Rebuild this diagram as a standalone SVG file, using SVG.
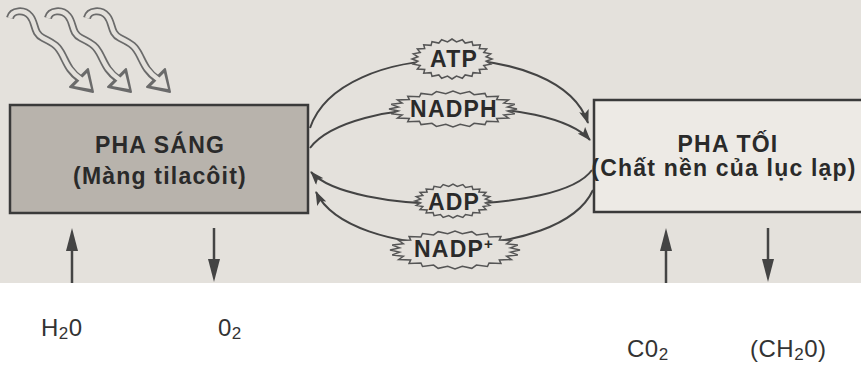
<svg xmlns="http://www.w3.org/2000/svg" xmlns:xlink="http://www.w3.org/1999/xlink" width="861" height="366" viewBox="0 0 861 366">
<style>
.box{stroke:#3a3a3a;stroke-width:2.5}
.lbl{font-family:"Liberation Sans",Arial,sans-serif;font-weight:bold;font-size:23px;fill:#2a2a2a;letter-spacing:1.2px;text-anchor:middle}
.bot{font-family:"Liberation Sans",Arial,sans-serif;font-size:24px;fill:#333;letter-spacing:0.5px}
.arc{fill:none;stroke:#444;stroke-width:2;marker-end:url(#ah)}
.vline{stroke:#444;stroke-width:2.5}
.vhead{fill:#444}
.burst{fill:#e4e1dc;stroke:#555;stroke-width:1.5;vector-effect:non-scaling-stroke}
.wo{fill:none;stroke:#6b6b6b;stroke-width:8;stroke-linecap:butt}
.wi{fill:none;stroke:#e4e1dc;stroke-width:4.5}
</style>
<defs>
<marker id="ah" markerUnits="userSpaceOnUse" markerWidth="14" markerHeight="10" viewBox="0 0 14 10" refX="13" refY="5" orient="auto">
<path d="M0,0 L14,5 L0,10 L3,5 z" fill="#444"/>
</marker>
<path id="burst" class="burst" d="M1,0 L.853,.112 L.966,.259 L.795,.329 L.866,.5 L.682,.524 L.707,.707 L.524,.682 L.5,.866 L.329,.795 L.259,.966 L.112,.853 L0,1 L-.112,.853 L-.259,.966 L-.329,.795 L-.5,.866 L-.524,.682 L-.707,.707 L-.682,.524 L-.866,.5 L-.795,.329 L-.966,.259 L-.853,.112 L-1,0 L-.853,-.112 L-.966,-.259 L-.795,-.329 L-.866,-.5 L-.682,-.524 L-.707,-.707 L-.524,-.682 L-.5,-.866 L-.329,-.795 L-.259,-.966 L-.112,-.853 L0,-1 L.112,-.853 L.259,-.966 L.329,-.795 L.5,-.866 L.524,-.682 L.707,-.707 L.682,-.524 L.866,-.5 L.795,-.329 L.966,-.259 L.853,-.112 Z"/>
<g id="wave">
<path class="wo" d="M10,18 C12,10 24,9 30,16 C36,23 33,33 43,38 C55,44 58,46 63,56 C67,64 70,72 80,79"/>
<polygon points="70,87 88,69 93,92" fill="#6b6b6b" stroke="#6b6b6b" stroke-width="2" stroke-linejoin="round"/>
<path class="wi" d="M10,18 C12,10 24,9 30,16 C36,23 33,33 43,38 C55,44 58,46 63,56 C67,64 70,72 82,80"/>
<polygon points="74,86 87,73 91,89" fill="#e4e1dc"/>
</g>
</defs>
<rect x="0" y="0" width="861" height="283" fill="#e4e1dc"/>
<rect x="0" y="283" width="861" height="83" fill="#ffffff"/>
<g id="light-rays">
<use xlink:href="#wave"/>
<use xlink:href="#wave" x="38"/>
<use xlink:href="#wave" x="77"/>
</g>
<g id="pha-sang">
<rect class="box" x="10" y="105" width="298" height="108" fill="#b8b3ac"/>
<text class="lbl" x="160" y="153">PHA SÁNG</text>
<text class="lbl" x="160" y="184">(Màng tilacôit)</text>
</g>
<g id="pha-toi">
<rect class="box" x="594" y="100" width="280" height="112" fill="#edeae5"/>
<text class="lbl" x="728" y="152">PHA TỐI</text>
<text class="lbl" x="724" y="176">(Chất nền của lục lạp)</text>
</g>
<g id="connectors">
<path class="arc" d="M310,128 C340,38 560,38 588,123"/>
<path class="arc" d="M310,148 C350,95 550,95 590,140"/>
<path class="arc" d="M592,170 C560,215 350,215 311,172"/>
<path class="arc" d="M593,190 C560,262 350,262 316,192"/>
<line class="vline" x1="72" y1="283" x2="72" y2="245"/>
<polygon class="vhead" points="72,228 66,251 78,251"/>
<line class="vline" x1="214" y1="228" x2="214" y2="265"/>
<polygon class="vhead" points="214,282 208,259 220,259"/>
<line class="vline" x1="666" y1="283" x2="666" y2="245"/>
<polygon class="vhead" points="666,228 660,251 672,251"/>
<line class="vline" x1="768" y1="228" x2="768" y2="265"/>
<polygon class="vhead" points="768,282 762,259 774,259"/>
</g>
<g id="atp">
<use xlink:href="#burst" transform="translate(452,59) scale(40,20)"/>
<text class="lbl" x="454" y="67">ATP</text>
</g>
<g id="nadph">
<use xlink:href="#burst" transform="translate(453,109) scale(64,18)"/>
<text class="lbl" x="454" y="117">NADPH</text>
</g>
<g id="adp">
<use xlink:href="#burst" transform="translate(453,201) scale(38,17)"/>
<text class="lbl" x="454" y="210">ADP</text>
</g>
<g id="nadp">
<use xlink:href="#burst" transform="translate(455,250) scale(65,19)"/>
<text class="lbl" x="454" y="257">NADP<tspan font-size="15" dy="-8">+</tspan></text>
</g>
<g id="labels">
<text class="bot" x="41" y="336">H<tspan font-size="17" dy="3">2</tspan><tspan dy="-3">0</tspan></text>
<text class="bot" x="218" y="336">0<tspan font-size="17" dy="3">2</tspan></text>
<text class="bot" x="627" y="357">C0<tspan font-size="17" dy="3">2</tspan></text>
<text class="bot" x="750" y="357" letter-spacing="2.5">(CH<tspan font-size="17" dy="3">2</tspan><tspan dy="-3">0)</tspan></text>
</g>
</svg>
